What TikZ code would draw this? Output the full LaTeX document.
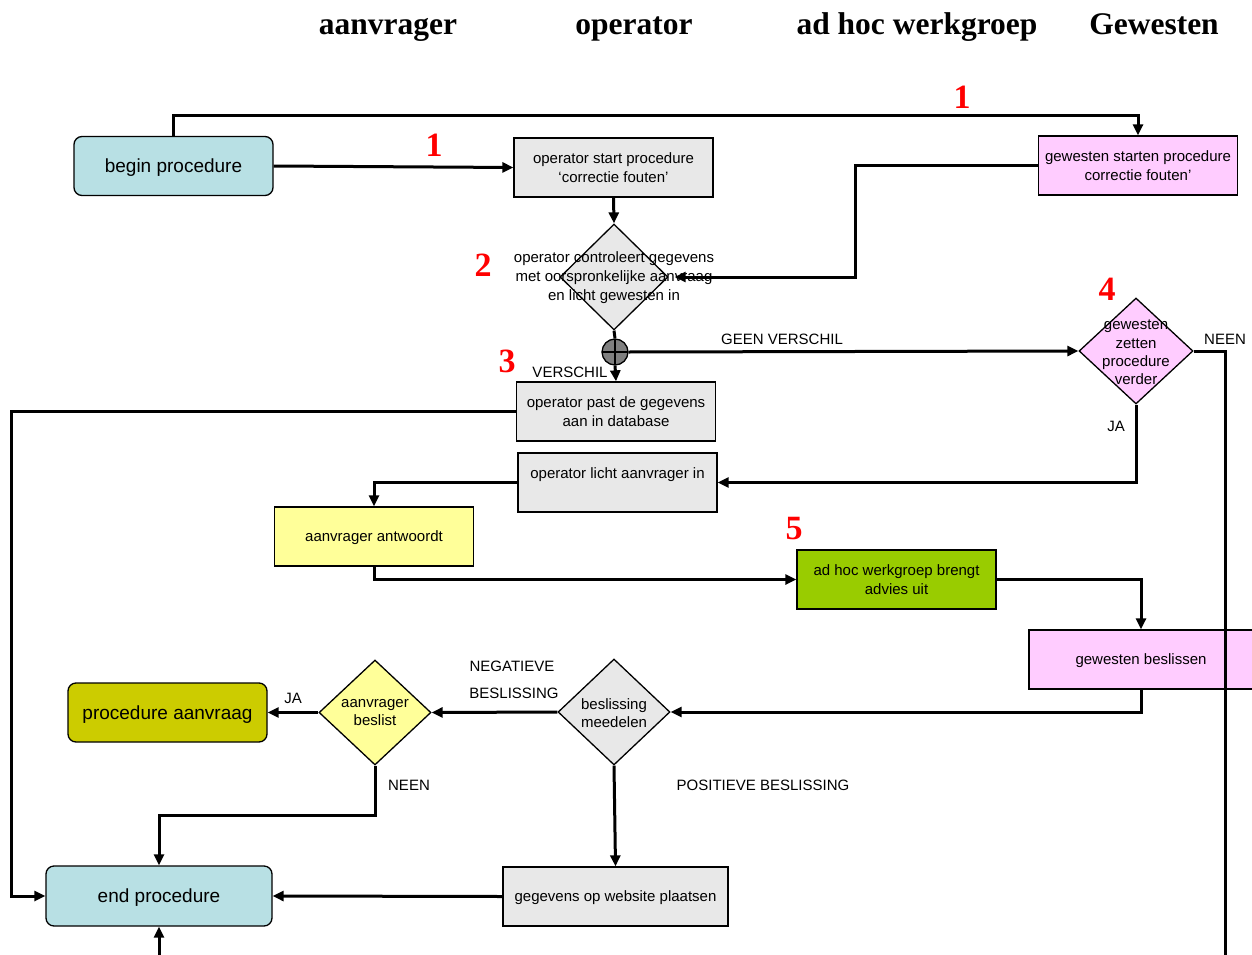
\documentclass[tikz,border=0pt]{standalone}
\usepackage{fontspec}
\setmainfont{Liberation Sans}
\newfontfamily\serifbf{Liberation Serif}
\usetikzlibrary{shapes.geometric,arrows.meta}
\definecolor{cyanb}{RGB}{184,224,228}
\definecolor{grayb}{RGB}{232,232,232}
\definecolor{pinkb}{RGB}{255,204,255}
\definecolor{yellowb}{RGB}{255,255,153}
\definecolor{greenb}{RGB}{153,204,0}
\definecolor{oliveb}{RGB}{204,204,0}
\definecolor{juncgray}{RGB}{128,128,128}
\begin{document}
\begin{tikzpicture}[x=1pt,y=-1pt,
  box/.style={draw, line width=1.3pt, inner sep=0pt, minimum width=199pt, minimum height=59pt, align=center, font=\fontsize{15}{18.5}\selectfont},
  one/.style={text depth=0pt},
  rbox/.style={box, one, rounded corners=8pt, fill=cyanb, font=\fontsize{19}{22}\selectfont},
  dia/.style={draw, diamond, line width=1.3pt, inner sep=0pt},
  txt/.style={align=center, inner sep=0pt, font=\fontsize{15}{19}\selectfont},
  lbl/.style={inner sep=0pt, font=\fontsize{15}{18}\selectfont},
  num/.style={text=red, inner sep=0pt, font=\serifbf\bfseries\fontsize{34}{36}\selectfont},
  ttl/.style={inner sep=0pt, anchor=base, font=\serifbf\bfseries\fontsize{31.5}{36}\selectfont},
  conn/.style={line width=3pt},
  arr/.style={conn, -{Triangle[length=11pt,width=10pt]}},
  junc/.style={circle, draw, line width=1.3pt, fill=juncgray, minimum size=26pt, inner sep=0pt,
    path picture={\draw[line width=1.3pt] (path picture bounding box.north) -- (path picture bounding box.south)
      (path picture bounding box.west) -- (path picture bounding box.east);}}
]
\useasboundingbox (0,0) rectangle (1252,955);
\clip (0,0) rectangle (1252,955);

% titles
\node[ttl] (t1) at (388,35) {aanvrager};
\node[ttl] (t2) at (634,35) {operator};
\node[ttl] (t3) at (917,35) {ad hoc werkgroep};
\node[ttl] (t4) at (1154,35) {Gewesten};

% boxes
\node[rbox] (bp) at (173.5,166) {begin procedure};
\node[box, fill=grayb] (os) at (613.5,167.5) {operator start procedure\\‘correctie fouten’};
\node[box, fill=pinkb] (gs) at (1138,165.5) {gewesten starten procedure\\correctie fouten’};
\node[dia, fill=grayb, minimum width=108pt, minimum height=106pt] (d2) at (614,277) {};
\node[txt] (d2t) at (614,278) {operator controleert gegevens\\met oorspronkelijke aanvraag\\en licht gewesten in};
\node[dia, fill=pinkb, minimum width=114pt, minimum height=106pt] (d4) at (1136,351) {};
\node[txt, font=\fontsize{15}{18.3}\selectfont] (d4t) at (1136,352.5) {gewesten\\zetten\\procedure\\verder};
\node[box, fill=grayb] (op) at (616,411.5) {operator past de gegevens\\aan in database};
\node[box, fill=grayb] (ol) at (617.5,482.5) {operator licht aanvrager in\\\mbox{}};
\node[box, one, fill=yellowb] (aa) at (374,536.5) {aanvrager antwoordt};
\node[box, fill=greenb] (ah) at (896.5,579.5) {ad hoc werkgroep brengt\\advies uit};
\node[box, one, fill=pinkb, minimum width=224pt] (gb) at (1141,659.5) {gewesten beslissen};
\node[dia, fill=grayb, minimum width=112pt, minimum height=106pt] (d5) at (614,712) {};
\node[txt, font=\fontsize{15}{18}\selectfont] (d5t) at (614,713) {beslissing\\meedelen};
\node[dia, fill=yellowb, minimum width=112pt, minimum height=105pt] (d6) at (375,712.5) {};
\node[txt, font=\fontsize{15}{18}\selectfont] (d6t) at (375,713) {aanvrager\\beslist};
\node[rbox, fill=oliveb] (pa) at (167.5,712.5) {procedure aanvraag};
\node[box, one, fill=grayb, minimum width=225pt] (gw) at (615.5,896.5) {gegevens op website plaatsen};
\node[rbox, minimum width=226pt, minimum height=60pt] (ep) at (159,896) {end procedure};

% routing coordinates
\coordinate (ytop) at (0,116);
\coordinate (xg) at (855,0);
\coordinate (xl) at (11,0);
\coordinate (xn) at (1225,0);
\coordinate (ybot) at (0,1000);
\coordinate (yn) at (0,815);

% connectors
\draw[arr] (bp.north) -- (bp.north |- ytop) -| (gs.north);
\draw[arr] (bp.east) -- (os.west);
\draw[arr] (os.south) -- (d2.north);
\draw[arr] (gs.west) -- (gs.west -| xg) -- (xg |- d2.east) -- ([xshift=6pt]d2.east);
\node[junc] (j) at (615,352) {};
\draw[conn] (d2.south) -- (j.north);
\draw[arr] (j.south) -- (op.north);
\draw[arr] (j.east) -- (d4.west);
\draw[arr] (d4.south) |- (ol.east);
\draw[arr] (ol.west) -| (aa.north);
\draw[arr] (aa.south) |- (ah.west);
\draw[arr] (ah.east) -| (gb.north);
\draw[arr] (gb.south) |- (d5.east);
\draw[arr] (d5.west) -- (d6.east);
\draw[arr] (d6.west) -- (pa.east);
\draw[arr] (d6.south) -- (d6.south |- yn) -| (ep.north);
\draw[arr] (d5.south) -- (gw.north);
\draw[arr] (gw.west) -- (ep.east);
\draw[arr] (op.west) -- (op.west -| xl) -- (xl |- ep.west) -- (ep.west);
\draw[arr] (d4.east) -- (d4.east -| xn) -- (xn |- ybot) -| (ep.south);

% labels
\node[lbl] (lgv) at (782,339) {GEEN VERSCHIL};
\node[lbl] (lne1) at (1225,339) {NEEN};
\node[lbl] (lv) at (570,372) {VERSCHIL};
\node[lbl] (lja1) at (1116,426) {JA};
\node[lbl] (lneg) at (512,666) {NEGATIEVE};
\node[lbl] (lbes) at (514,693) {BESLISSING};
\node[lbl] (lja2) at (293,698) {JA};
\node[lbl] (lne2) at (409,785) {NEEN};
\node[lbl] (lpos) at (763,785) {POSITIEVE BESLISSING};

% numbers
\node[num] (n1a) at (434,145) {1};
\node[num] (n1b) at (962,97) {1};
\node[num] (n2) at (483,265) {2};
\node[num] (n3) at (507,361) {3};
\node[num] (n4) at (1107,289) {4};
\node[num] (n5) at (794,529) {5};
\end{tikzpicture}
\end{document}
